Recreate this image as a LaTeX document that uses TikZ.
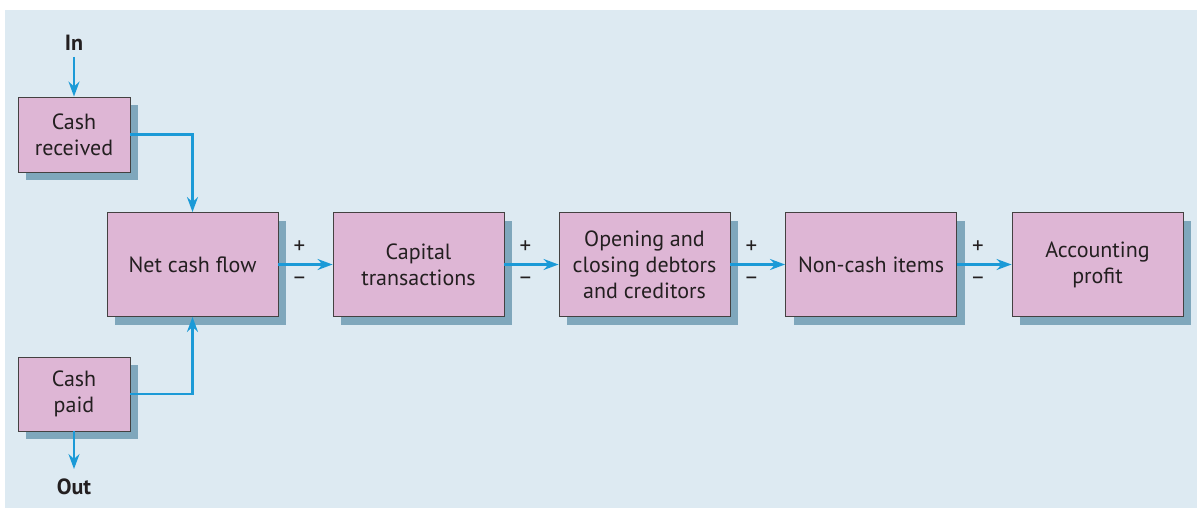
\documentclass[tikz,border=0pt]{standalone}
\usepackage{fontspec}
\setmainfont{PT Sans}
\usetikzlibrary{arrows.meta,shadows}
\definecolor{bgc}{HTML}{DDEAF2}
\definecolor{boxc}{HTML}{DEB6D5}
\definecolor{shc}{HTML}{7FA7BC}
\definecolor{arc}{HTML}{1B9AD7}
\definecolor{txc}{HTML}{231F20}
\tikzset{
  flowbox/.style={draw=txc!85, line width=0.9pt, fill=boxc, text=txc, align=center,
    inner sep=0pt, font=\fontsize{22}{26}\selectfont,
    drop shadow={shadow xshift=8pt, shadow yshift=-8pt, fill=shc, opacity=1}},
  smallbox/.style={flowbox, minimum width=112pt, minimum height=75pt},
  bigbox/.style={flowbox, minimum width=171pt, minimum height=104pt},
  flowarrow/.style={draw=arc, line width=2.2pt, -{Stealth[length=15pt,width=11pt,inset=5pt]}},
  signlbl/.style={text=txc, font=\fontsize{23}{24}\selectfont, inner sep=0pt},
  endlbl/.style={text=txc, font=\fontsize{22}{24}\selectfont\bfseries, inner sep=0pt}
}
\begin{document}
\begin{tikzpicture}[x=1pt,y=-1pt]
\useasboundingbox (0,0) rectangle (1197,508);
\fill[bgc] (5,10) rectangle (1197,508);
\node[smallbox] (cr) at (74,134.5) {Cash\\received};
\node[smallbox, minimum height=74pt] (cp) at (74,394) {Cash\\paid};
\node[bigbox] (ncf) at (192.5,264.5) {Net cash flow};
\node[bigbox] (ct) at (418.5,264.5) {Capital\\transactions};
\node[bigbox] (oc) at (644.5,264.5) {Opening and\\closing debtors\\and creditors};
\node[bigbox] (nc) at (871,264.5) {Non-cash items};
\node[bigbox] (ap) at (1097.5,264.5) {Accounting\\profit};
\node[endlbl] (in) at (74,43) {In};
\node[endlbl] (out) at (74,487) {Out};
\coordinate (inS) at (74,57);
\coordinate (outE) at (74,469);
\draw[flowarrow] (inS) -- (cr.north);
\draw[flowarrow] (cp.south) -- (outE);
\draw[flowarrow] (cr.east) -| (ncf.north);
\draw[flowarrow] (cp.east) -| (ncf.south);
\draw[flowarrow] (ncf.east) -- (ct.west);
\draw[flowarrow] (ct.east) -- (oc.west);
\draw[flowarrow] (oc.east) -- (nc.west);
\draw[flowarrow] (nc.east) -- (ap.west);
\foreach \a/\n in {ncf/1,ct/2,oc/3,nc/4}{
  \node[signlbl] (p\n) at ([xshift=21pt,yshift=17pt]\a.east) {+};
  \node[signlbl] (m\n) at ([xshift=21pt,yshift=-16pt]\a.east) {\textendash};
}
\end{tikzpicture}
\end{document}
